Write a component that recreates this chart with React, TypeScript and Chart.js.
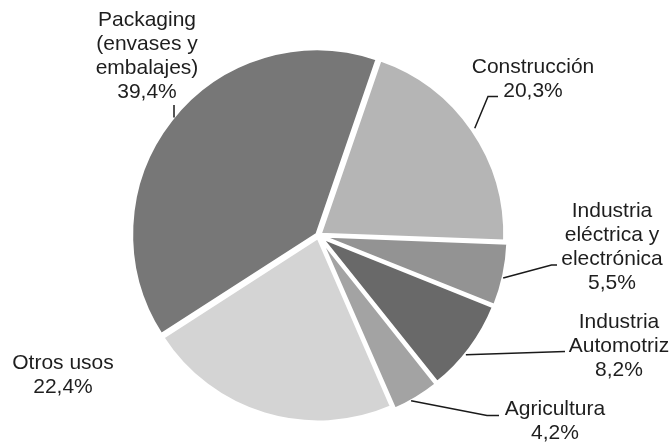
import React, { useEffect, useRef } from "react";
import { Chart, ArcElement, PieController } from "chart.js";

Chart.register(ArcElement, PieController);

// ---- Data ----
const categories = [
  "Construcción",
  "Industria eléctrica y electrónica",
  "Industria Automotriz",
  "Agricultura",
  "Otros usos",
  "Packaging (envases y embalajes)",
];
const shares = [20.3, 5.5, 8.2, 4.2, 22.4, 39.4];
const labelLines = [
  ["Construcción"],
  ["Industria", "eléctrica y", "electrónica"],
  ["Industria", "Automotriz"],
  ["Agricultura"],
  ["Otros usos"],
  ["Packaging", "(envases y", "embalajes)"],
];
const sliceColors = ["#b5b5b5", "#939393", "#696969", "#a3a3a3", "#d4d4d4", "#777777"];
const sliceOffsets = [8, 12, 12, 12, 8, 8];

// ---- Label layout (annotation placement) ----
type LabelLayout = {
  x: number;
  y: number;
  frac: number | null;
  anchorX?: number;
  gap: number;
  path: [number, number][];
};
const labelLayout: LabelLayout[] = [
  { x: 533, y: 72.5, frac: 0.5, gap: 3, path: [[488, 96.5], [498, 96.5]] },
  { x: 612, y: 216.5, frac: 0.55, gap: 2, path: [[551.5, 265], [557, 265]] },
  { x: 619, y: 327.5, frac: 0.58, gap: 2, path: [[565, 351.5]] },
  { x: 555, y: 415, frac: 0.62, gap: 2, path: [[487, 415.5], [499, 415.5]] },
  { x: 63, y: 368.5, frac: null, gap: 0, path: [] },
  { x: 147, y: 25.5, frac: 0.5, anchorX: 174, gap: 0, path: [[174, 105]] },
];
const LINE_H = 24;
const FONT = '21px "Liberation Sans", Arial, Helvetica, sans-serif';

const fmt = (v: number) => v.toFixed(1).replace(".", ",") + "%";

const labelPlugin = {
  id: "pieLabels",
  afterDatasetsDraw(chart: any) {
    const ctx = chart.ctx as CanvasRenderingContext2D;
    const meta = chart.getDatasetMeta(0);
    ctx.save();
    meta.data.forEach((arc: any, i: number) => {
      const L = labelLayout[i];
      const p = arc.getProps(["x", "y", "startAngle", "endAngle", "outerRadius"], true);
      const off = (arc.options.offset || 0) / 4;
      const mid = (p.startAngle + p.endAngle) / 2;
      const cx = p.x + Math.cos(mid) * off;
      const cy = p.y + Math.sin(mid) * off;
      if (L.frac !== null && L.path.length) {
        const r = p.outerRadius + L.gap;
        let a = p.startAngle + (p.endAngle - p.startAngle) * L.frac;
        if (L.anchorX !== undefined) {
          a = -Math.acos(Math.max(-1, Math.min(1, (L.anchorX - cx) / r)));
        }
        const sx = cx + Math.cos(a) * r;
        const sy = cy + Math.sin(a) * r;
        ctx.beginPath();
        ctx.strokeStyle = "#1a1a1a";
        ctx.lineWidth = 1.5;
        ctx.moveTo(sx, sy);
        L.path.forEach(([px, py]) => ctx.lineTo(px, py));
        ctx.stroke();
      }
      ctx.fillStyle = "#1e1e1e";
      ctx.font = FONT;
      ctx.textAlign = "center";
      ctx.textBaseline = "alphabetic";
      const lines = [...labelLines[i], fmt(shares[i])];
      lines.forEach((t, k) => ctx.fillText(t, L.x, L.y + k * LINE_H));
    });
    ctx.restore();
  },
};

export default function App() {
  const ref = useRef<HTMLCanvasElement | null>(null);
  useEffect(() => {
    if (!ref.current) return;
    const chart = new Chart(ref.current, {
      type: "pie",
      data: {
        labels: categories,
        datasets: [
          {
            data: shares,
            backgroundColor: sliceColors,
            borderColor: "#ffffff",
            borderWidth: 3,
            offset: sliceOffsets,
            radius: 184.5,
          } as any,
        ],
      },
      options: {
        responsive: false,
        animation: false,
        devicePixelRatio: 1,
        rotation: 19,
        layout: { padding: { left: 0, right: 33, top: 27, bottom: 0 } },
        plugins: { legend: { display: false }, tooltip: { enabled: false } } as any,
        events: [],
      },
      plugins: [labelPlugin],
    });
    return () => chart.destroy();
  }, []);
  return (
    <div style={{ position: "absolute", left: 0, top: 0, width: 670, height: 444, background: "#fff" }}>
      <canvas ref={ref} width={670} height={444} style={{ display: "block" }} />
    </div>
  );
}
